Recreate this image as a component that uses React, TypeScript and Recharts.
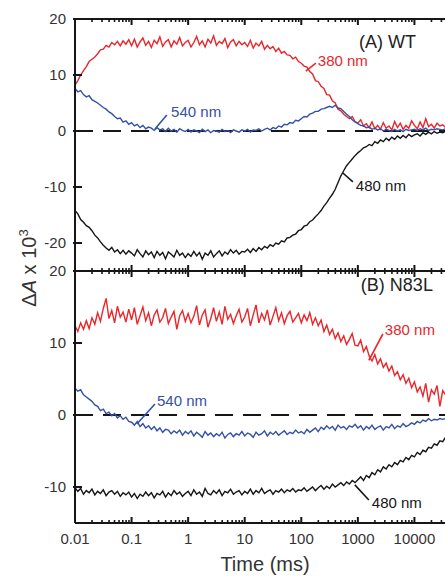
import React from "react"
import { LineChart, Line, XAxis, YAxis, ReferenceLine, ReferenceDot } from "recharts"

// sampling: 20 points per decade, log spaced
const MANTISSA = [1, 1.122, 1.259, 1.413, 1.585, 1.778, 1.995, 2.239, 2.512, 2.818, 3.162, 3.548, 3.981, 4.467, 5.012, 5.623, 6.31, 7.079, 7.943, 8.913]
const DECADE_STARTS = [0.01, 0.1, 1, 10, 100, 1000, 10000]
const TIME = DECADE_STARTS.flatMap((d) => MANTISSA.map((m) => +(d * m).toPrecision(4)))

const X_MAJOR = [0.01, 0.1, 1, 10, 100, 1000, 10000, 100000]
const X_LABELED = [0.01, 0.1, 1, 10, 100, 1000, 10000]
const X_MINOR_STEPS = [2, 3, 4, 5, 6, 7, 8, 9]
const X_MINOR = X_MAJOR.slice(0, -1).flatMap((d) => X_MINOR_STEPS.map((m) => d * m))
const Y_TICKS_A = [20, 10, 0, -10, -20]
const Y_TICKS_B = [20, 10, 0, -10]

// (A) WT
const WT_380 = [
  8.2, 9.0, 10.0, 10.8, 11.5, 12.4, 12.8, 13.2, 13.8, 14.5, 14.6, 15.3, 15.0, 15.8, 15.4, 16.0, 15.2, 16.1, 15.5, 16.3,
  15.2, 16.4, 15.0, 15.9, 16.6, 15.3, 16.0, 14.9, 16.2, 15.6, 16.8, 15.1, 15.9, 16.3, 15.0, 16.1, 15.5, 16.7, 15.2, 15.8,
  16.2, 15.0, 15.8, 16.9, 15.4, 16.1, 15.0, 16.4, 15.7, 17.0, 15.3, 16.0, 15.6, 16.5, 14.9, 15.9, 16.3, 15.2, 16.0, 15.4,
  15.8, 15.1, 16.2, 14.8, 15.7, 15.2, 16.0, 14.6, 15.3, 14.7, 15.1, 14.2, 14.8, 13.9, 14.2, 13.6, 13.5, 12.9, 13.2, 12.4,
  12.1, 11.6, 11.4, 10.6, 10.2, 9.0, 8.8, 8.0, 7.6, 6.5, 6.4, 5.4, 5.0, 3.9, 3.6, 3.0, 2.6, 2.2, 2.6, 1.7,
  1.4, 2.0, 0.9, 1.3, 0.6, 1.6, 0.4, 1.0, 0.3, 1.5, 0.5, 0.9, 0.2, 1.7, 0.6, 1.4, 0.3, 1.0, 0.5, 1.8,
  1.0, 0.4, 1.6, 0.6, 2.2, 0.8, 1.2, 0.5, 1.4, 0.9, 1.1, 0.6, 1.3, 0.8, 1.0, 0.7, 1.2, 0.9, 1.0, 0.8,
]
const WT_540 = [
  7.6, 7.0, 7.2, 6.5, 6.1, 6.3, 5.6, 5.3, 5.0, 4.6, 4.2, 3.9, 3.4, 3.1, 2.6, 2.2, 2.3, 1.6, 1.8, 1.2,
  1.5, 0.9, 1.2, 0.6, 1.0, 0.4, 0.7, 0.5, 0.1, 0.6, 0.2, 0.4, -0.1, 0.5, 0.0, 0.3, -0.2, 0.4, 0.1, -0.1,
  0.3, -0.2, 0.2, 0.0, -0.3, 0.3, -0.1, 0.2, -0.3, 0.1, 0.0, -0.2, 0.3, -0.1, 0.1, -0.3, 0.2, 0.0, -0.2, 0.2,
  0.0, 0.3, -0.2, 0.2, 0.1, 0.4, 0.0, 0.3, 0.5, 0.2, 0.6, 0.4, 0.9, 0.7, 1.2, 1.1, 1.5, 1.4, 1.9, 1.8,
  2.2, 2.6, 2.5, 3.0, 3.2, 3.5, 3.5, 3.9, 4.0, 4.2, 4.4, 4.2, 4.6, 4.1, 4.0, 3.5, 3.0, 2.6, 2.0, 1.6,
  1.3, 1.0, 0.9, 0.6, 0.7, 0.3, 0.5, 0.2, 0.4, 0.0, 0.3, 0.1, -0.1, 0.3, 0.0, 0.2, -0.1, 0.3, 0.1, 0.2,
  0.3, 0.1, 0.4, 0.2, 0.5, 0.1, 0.3, 0.2, 0.4, 0.3, 0.2, 0.4, 0.3, 0.2, 0.3, 0.4, 0.3, 0.2, 0.3, 0.3,
]
const WT_480 = [
  -14.2, -14.8, -15.8, -16.3, -16.9, -17.2, -17.8, -18.6, -19.1, -19.8, -20.4, -20.9, -21.3, -20.8, -21.6, -21.2, -21.9, -21.3, -22.0, -21.4,
  -21.8, -22.3, -21.2, -21.9, -22.5, -21.4, -22.1, -21.6, -22.6, -21.5, -22.2, -21.7, -22.8, -21.6, -22.0, -22.5, -21.3, -22.2, -21.8, -22.6,
  -21.9, -22.4, -21.5, -22.3, -21.7, -22.9, -21.8, -22.2, -21.4, -22.5, -21.9, -21.4, -22.3, -21.6, -22.0, -21.2, -21.8, -21.3, -22.0, -21.5,
  -21.6, -21.1, -21.7, -21.0, -21.5, -20.8, -21.2, -20.6, -20.9, -20.3, -20.6, -20.0, -20.2, -19.6, -19.8, -19.1, -19.0, -18.6, -18.4, -17.8,
  -17.6, -17.0, -16.8, -16.2, -15.9, -15.3, -14.8, -14.2, -13.4, -12.8, -12.0, -11.3, -10.4, -9.2, -8.0, -7.1, -6.2, -5.6, -5.0, -4.4,
  -3.9, -3.5, -3.0, -2.8, -2.4, -2.6, -1.9, -2.2, -1.6, -1.9, -1.3, -1.7, -1.1, -1.5, -0.9, -1.3, -0.8, -1.2, -0.6, -1.0,
  -0.7, -0.5, -0.9, -0.3, -0.6, -0.2, -0.5, -0.1, -0.4, -0.2, -0.3, 0.0, -0.2, -0.1, -0.2, 0.0, -0.1, 0.0, -0.1, 0.0,
]

// (B) N83L
const N83L_380 = [
  12.4, 11.6, 12.8, 11.9, 13.1, 12.0, 13.5, 12.6, 14.2, 13.0, 14.8, 16.2, 13.4, 14.5, 12.8, 15.1, 13.6, 14.3, 12.9, 14.7,
  13.2, 14.9, 12.6, 13.8, 15.0, 13.1, 14.2, 12.4, 13.9, 14.6, 12.9, 13.5, 14.8, 12.7, 13.6, 14.4, 11.9, 13.8, 14.5, 13.0,
  14.1, 12.8, 13.7, 15.2, 12.5, 13.9, 14.6, 12.2, 13.4, 14.9, 13.0, 14.3, 12.6, 15.1, 13.3, 14.0, 12.7, 13.8, 14.7, 12.9,
  13.6, 14.8, 12.4, 13.9, 15.3, 12.8, 14.1, 13.2, 14.6, 12.5, 13.7, 14.9, 13.1, 14.2, 12.7, 13.8, 14.4, 12.9, 13.5, 14.1,
  12.8, 13.9, 13.1, 14.2, 12.6, 13.5, 12.4, 13.2, 11.6, 12.5, 11.2, 11.9, 10.6, 11.4, 10.2, 11.0, 9.8, 10.5, 11.3, 9.7,
  9.6, 10.4, 8.8, 9.5, 8.2, 7.5, 8.4, 7.1, 7.8, 6.6, 7.2, 6.1, 6.8, 5.5, 6.0, 4.9, 5.6, 4.4, 5.1, 3.8,
  4.6, 3.2, 3.9, 2.6, 4.4, 1.8, 3.5, 2.9, 4.1, 1.2, 3.4, 2.8, 3.0, 1.0, 3.2, 2.6, 2.9, 2.5, 2.8, 2.4,
]
const N83L_540 = [
  3.7, 3.3, 3.5, 2.8, 2.5, 2.2, 1.9, 1.4, 1.2, 0.6, 0.8, 0.2, 0.4, -0.1, 0.2, -0.4, -0.1, -0.6, -0.3, -0.9,
  -1.0, -1.4, -0.9, -1.6, -1.2, -1.8, -1.5, -2.0, -1.6, -2.2, -1.8, -2.4, -2.0, -2.1, -2.6, -2.2, -2.5, -2.1, -2.8, -2.3,
  -2.6, -2.2, -2.9, -2.4, -2.7, -3.1, -2.3, -2.8, -2.5, -3.0, -2.6, -2.9, -2.4, -3.2, -2.7, -2.5, -3.0, -2.6, -2.8, -2.3,
  -2.9, -2.5, -2.7, -3.1, -2.4, -2.8, -2.6, -2.2, -2.9, -2.4, -2.7, -2.3, -2.8, -2.5, -2.2, -2.7, -2.4, -2.6, -2.1, -2.5,
  -2.3, -2.6, -2.0, -2.4, -2.1, -1.8, -2.3, -1.7, -2.0, -1.5, -1.9, -1.6, -2.1, -1.4, -1.8, -1.6, -2.0, -1.5, -1.7, -1.3,
  -1.8, -1.5, -2.1, -1.6, -1.9, -1.4, -2.0, -1.7, -1.5, -2.1, -1.6, -1.8, -1.3, -1.9, -1.5, -1.7, -1.2, -1.6, -1.4, -1.1,
  -1.3, -0.9, -1.1, -0.7, -0.9, -0.5, -0.8, -0.6, -0.7, -0.5, -0.6, -0.5, -0.6, -0.4, -0.5, -0.4, -0.5, -0.4, -0.5, -0.4,
]
const N83L_480 = [
  -10.1, -10.6, -10.2, -11.0, -10.5, -10.8, -10.3, -11.1, -10.6, -10.9, -10.4, -11.2, -10.7, -10.5, -11.0, -10.6, -11.3, -10.8, -11.1, -10.7,
  -11.4, -10.9, -11.6, -11.0, -11.3, -10.7, -11.2, -10.8, -11.5, -10.9, -11.1, -10.6, -11.4, -10.8, -11.2, -10.5, -11.0, -10.7, -11.3, -10.9,
  -10.6, -11.2, -10.4, -11.0, -10.7, -11.3, -10.2, -10.9, -11.1, -10.5, -10.9, -10.4, -11.2, -10.6, -10.8, -10.3, -11.0, -10.7, -10.5, -11.1,
  -10.6, -10.9, -10.3, -11.0, -10.5, -10.8, -10.2, -10.9, -10.6, -10.4, -11.0, -10.5, -10.7, -10.3, -10.8, -10.4, -10.6, -10.2, -10.7, -10.4,
  -10.5, -10.1, -10.6, -10.3, -10.0, -10.5, -10.1, -9.8, -10.3, -9.9, -10.2, -9.6, -10.0, -9.7, -9.4, -9.8, -9.3, -9.6, -9.1, -9.4,
  -9.0, -8.6, -9.1, -8.4, -8.7, -8.0, -8.3, -7.6, -7.9, -7.2, -7.5, -6.9, -7.2, -6.6, -6.9, -6.3, -6.5, -5.9, -6.2, -5.6,
  -5.8, -5.2, -5.5, -4.9, -5.1, -4.5, -4.6, -4.0, -4.2, -3.6, -3.7, -3.1, -3.2, -2.7, -2.8, -2.3, -2.4, -2.0, -2.1, -1.8,
]

const rows = TIME.map((t, i) => ({
  t,
  wt380: WT_380[i],
  wt540: WT_540[i],
  wt480: WT_480[i],
  n380: N83L_380[i],
  n540: N83L_540[i],
  n480: N83L_480[i],
}))

const RED = "#e8262b"
const BLUE = "#3551a6"
const BLACK = "#161616"
const TEXT = "#333"
const FONT = "'Liberation Sans', Arial, sans-serif"

const X_DOMAIN = [0.01, 100000]
const PLOT_W = 396

// annotation anchors in data units (time ms, dA x 10^3)
const NOTES_A = [
  { text: "(A) WT", t: 1043, v: 15.9, color: "#222", size: 18 },
  { text: "380 nm", t: 196, v: 12.5, color: RED, size: 15 },
  { text: "540 nm", t: 0.5, v: 3.4, color: BLUE, size: 15 },
  { text: "480 nm", t: 922, v: -9.8, color: BLACK, size: 15 },
]
const LEADERS_A = [
  { from: { x: 120, y: 10.7 }, to: { x: 181, y: 12.1 }, color: RED },
  { from: { x: 0.259, y: 0.36 }, to: { x: 0.42, y: 2.86 }, color: BLUE },
  { from: { x: 543, y: -7.5 }, to: { x: 817, y: -9.1 }, color: BLACK },
]
const NOTES_B = [
  { text: "(B) N83L", t: 1130, v: 18.05, color: "#222", size: 18 },
  { text: "380 nm", t: 3000, v: 11.9, color: RED, size: 15 },
  { text: "540 nm", t: 0.281, v: 1.94, color: BLUE, size: 15 },
  { text: "480 nm", t: 1766, v: -12.2, color: BLACK, size: 15 },
]
const LEADERS_B = [
  { from: { x: 1563, y: 7.6 }, to: { x: 2770, y: 11.25 }, color: RED },
  { from: { x: 0.124, y: -1.25 }, to: { x: 0.259, y: 1.53 }, color: BLUE },
  { from: { x: 885, y: -9.7 }, to: { x: 1563, y: -11.8 }, color: BLACK },
]

function noteShape(n: { text: string; color: string; size: number }) {
  return (p: any) => (
    <text x={p.cx} y={p.cy} dy="0.35em" fontSize={n.size} fill={n.color} fontFamily={FONT}>
      {n.text}
    </text>
  )
}

const xLabelShape = (label: string) => (p: any) => (
  <text x={p.cx} y={p.cy + 21} textAnchor="middle" fontSize={15} fill={TEXT} fontFamily={FONT}>
    {label}
  </text>
)

const yLabelShape = (label: string) => (p: any) => (
  <text x={p.cx - 9} y={p.cy} dy="0.35em" textAnchor="end" fontSize={15} fill={TEXT} fontFamily={FONT}>
    {label}
  </text>
)

// tick marks drawn as small filled bars at the tick's position, pointing into the plot
const xTickShape = (len: number, w: number, dir: number) => (p: any) => (
  <rect x={p.cx - w / 2} y={dir > 0 ? p.cy : p.cy - len} width={w} height={len} fill={BLACK} />
)
const yTickShape = (p: any) => <rect x={p.cx - 2} y={p.cy - 1} width={9} height={2} fill={BLACK} />

function Panel({ keys, domain, yTicks, notes, leaders, bottomLabels, height, margin }: any) {
  const [lo, hi] = domain
  const [x0, x1] = X_DOMAIN
  const frame = [
    [{ x: x0, y: hi }, { x: x1, y: hi }],
    [{ x: x0, y: lo }, { x: x1, y: lo }],
    [{ x: x0, y: lo }, { x: x0, y: hi }],
  ]
  const xTicks = [...X_MAJOR.map((t) => ({ t, len: 6, w: 2 })), ...X_MINOR.map((t) => ({ t, len: 3, w: 1.6 }))]
  return (
    <LineChart width={75 + PLOT_W} height={height} data={rows} margin={margin}>
      <XAxis dataKey="t" type="number" scale="log" domain={X_DOMAIN} allowDataOverflow hide />
      <YAxis type="number" domain={domain} allowDataOverflow hide />
      <ReferenceLine y={0} stroke={BLACK} strokeWidth={2} strokeDasharray="18 10" />
      <Line dataKey={keys[0]} stroke={RED} strokeWidth={1.4} dot={false} isAnimationActive={false} />
      <Line dataKey={keys[1]} stroke={BLUE} strokeWidth={1.4} dot={false} isAnimationActive={false} />
      <Line dataKey={keys[2]} stroke={BLACK} strokeWidth={1.4} dot={false} isAnimationActive={false} />
      {frame.map((s, i) => (
        <ReferenceLine key={"f" + i} segment={s} stroke={BLACK} strokeWidth={2} ifOverflow="visible" />
      ))}
      {xTicks.map((k, i) => (
        <ReferenceDot key={"xt" + i} x={k.t} y={hi} r={0} ifOverflow="visible" shape={xTickShape(k.len, k.w, 1)} />
      ))}
      {xTicks.map((k, i) => (
        <ReferenceDot key={"xb" + i} x={k.t} y={lo} r={0} ifOverflow="visible" shape={xTickShape(k.len, k.w, -1)} />
      ))}
      {yTicks.map((v: number) => (
        <ReferenceDot key={"yt" + v} x={x0} y={v} r={0} ifOverflow="visible" shape={yTickShape} />
      ))}
      {leaders.map((l: any, i: number) => (
        <ReferenceLine key={"l" + i} segment={[l.from, l.to]} stroke={l.color} strokeWidth={1.6} ifOverflow="visible" />
      ))}
      {yTicks.map((v: number) => (
        <ReferenceDot key={"y" + v} x={x0} y={v} r={0} ifOverflow="visible" shape={yLabelShape(String(v))} />
      ))}
      {bottomLabels &&
        X_LABELED.map((t) => (
          <ReferenceDot key={"x" + t} x={t} y={lo} r={0} ifOverflow="visible" shape={xLabelShape(String(t))} />
        ))}
      {notes.map((n: any, i: number) => (
        <ReferenceDot key={"n" + i} x={n.t} y={n.v} r={0} ifOverflow="visible" shape={noteShape(n)} />
      ))}
    </LineChart>
  )
}

export default function App() {
  return (
    <div
      style={{
        position: "fixed",
        left: 0,
        top: 0,
        width: 445,
        height: 577,
        overflow: "hidden",
        background: "#fff",
        fontFamily: FONT,
      }}
    >
      <div style={{ position: "absolute", left: 0, top: 0 }}>
        <Panel
          keys={["wt380", "wt540", "wt480"]}
          domain={[-25, 20]}
          yTicks={Y_TICKS_A}
          notes={NOTES_A}
          leaders={LEADERS_A}
          bottomLabels={false}
          height={280}
          margin={{ top: 19, right: 0, bottom: 9, left: 75 }}
        />
      </div>
      <div style={{ position: "absolute", left: 0, top: 262 }}>
        <Panel
          keys={["n380", "n540", "n480"]}
          domain={[-15, 20]}
          yTicks={Y_TICKS_B}
          notes={NOTES_B}
          leaders={LEADERS_B}
          bottomLabels
          height={315}
          margin={{ top: 9, right: 0, bottom: 54, left: 75 }}
        />
      </div>
      <svg width={445} height={577} style={{ position: "absolute", left: 0, top: 0, pointerEvents: "none" }}>
        <text
          x={36}
          y={268}
          transform="rotate(-90 36 268)"
          textAnchor="middle"
          fontSize={20}
          fill={TEXT}
          fontFamily={FONT}
        >
          Δ<tspan fontStyle="italic">A</tspan> x 10
          <tspan fontSize={13} dy={-8}>3</tspan>
        </text>
        <text x={265} y={571} textAnchor="middle" fontSize={20} fill={TEXT} fontFamily={FONT}>
          Time (ms)
        </text>
      </svg>
    </div>
  )
}
